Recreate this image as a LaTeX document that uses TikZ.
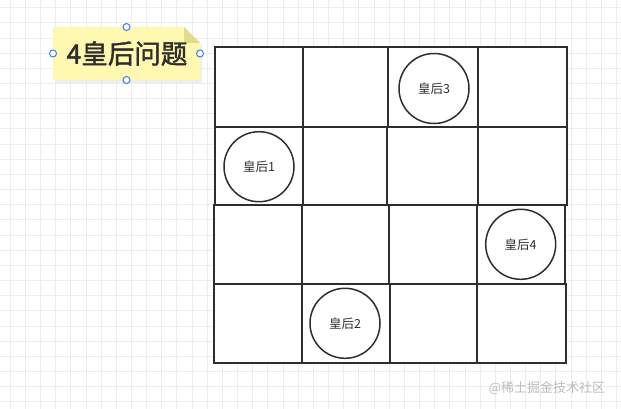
\documentclass[tikz,border=0pt]{standalone}
\usepackage{fontspec}
\newfontfamily\cjk{Noto Sans CJK SC}
\newfontfamily\cjkb[FakeBold=1.6]{Noto Sans CJK SC}
\definecolor{ink}{HTML}{2E2E2E}
\definecolor{gridc}{HTML}{EDEDED}
\definecolor{noteY}{HTML}{FFF8B0}
\definecolor{foldY}{HTML}{E2DB8E}
\definecolor{handle}{HTML}{3B7CF0}
\definecolor{wm}{HTML}{BDBDBD}
\tikzset{
  gridline/.style={draw=gridc, line width=0.6pt},
  cell/.style={draw=ink, fill=white, line width=2pt, inner sep=0pt, rectangle},
  queen/.style={draw=ink, fill=white, line width=1.5pt, circle, inner sep=0pt, minimum size=70pt, font=\cjk\fontsize{12.5}{14}\selectfont, text=ink},
  hnd/.style={draw=handle, fill=white, line width=1pt, circle, inner sep=0pt, minimum size=7pt},
}
\newcommand\mkcell[5]{\node[cell, minimum width={#4pt-#2pt}, minimum height={#5pt-#3pt}] (#1) at ({(#2+#4)/2},{(#3+#5)/2}) {};}
\begin{document}
\begin{tikzpicture}[x=1pt,y=-1pt]
\useasboundingbox (0,0) rectangle (621,409);
\fill[white] (0,0) rectangle (621,409);
% background grid
\foreach \k in {0,...,40} {\draw[gridline] ({10+15.16*\k},0) -- ({10+15.16*\k},409);}
\foreach \k in {0,...,26} {\draw[gridline] (0,{7.5+15.16*\k}) -- (621,{7.5+15.16*\k});}
% note
\fill[black!12, opacity=0.5] (55,30) -- (186,30) -- (202,46) -- (202,83) -- (55,83) -- cycle;
\fill[noteY] (53,27) -- (184,27) -- (200,43) -- (200,80) -- (53,80) -- cycle;
\fill[foldY] (184,27) -- (200,43) -- (184,43) -- cycle;
\node[font=\cjkb\fontsize{26.5}{30}\selectfont, text=ink] (title) at (127,53.5) {4皇后问题};
\node[hnd] (h1) at (126.5,27) {};
\node[hnd] (h2) at (126.5,80) {};
\node[hnd] (h3) at (53,53.5) {};
\node[hnd] (h4) at (200,53.5) {};
% board rows
\mkcell{c11}{215}{47.3}{302.7}{127}
\mkcell{c12}{302.7}{47.3}{387.5}{127}
\mkcell{c13}{387.5}{47.3}{478}{127}
\mkcell{c14}{478}{47.3}{566.5}{127}
\mkcell{c21}{215}{127}{302.7}{204.5}
\mkcell{c22}{302.7}{127}{386.7}{204.5}
\mkcell{c23}{386.7}{127}{477.7}{204.5}
\mkcell{c24}{477.7}{127}{566.7}{204.5}
\mkcell{c31}{214}{204.5}{302}{284}
\mkcell{c32}{302}{204.5}{388.7}{284}
\mkcell{c33}{388.7}{204.5}{476.7}{284}
\mkcell{c34}{476.7}{204.5}{565}{284}
\mkcell{c41}{214}{284}{301.7}{362.5}
\mkcell{c42}{301.7}{284}{389.5}{362.5}
\mkcell{c43}{389.5}{284}{477}{362.5}
\mkcell{c44}{477}{284}{565.7}{362.5}
% queens
\node[queen] (q1) at (259,166.7) {皇后1};
\node[queen] (q2) at (345,323.3) {皇后2};
\node[queen] (q3) at (434,88.5) {皇后3};
\node[queen] (q4) at (520.7,244.3) {皇后4};
% watermark
\node[font=\cjk\fontsize{13}{15}\selectfont, text=wm] (wmk) at (547,388) {@稀土掘金技术社区};
\end{tikzpicture}
\end{document}
